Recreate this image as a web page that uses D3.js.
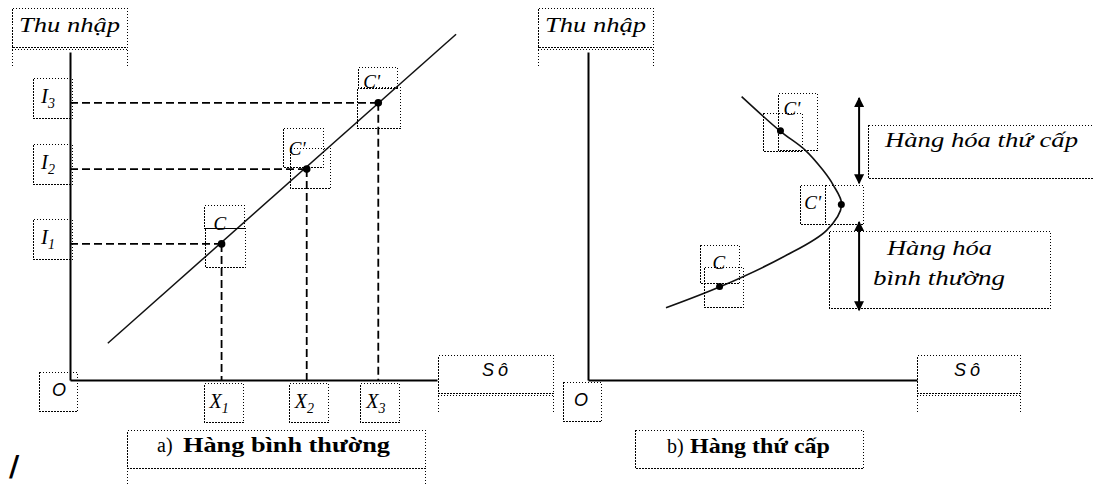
<!DOCTYPE html>
<html>
<head>
<meta charset="utf-8">
<script src="https://cdn.jsdelivr.net/npm/d3@7"></script>
<style>
  html, body { margin: 0; padding: 0; background: #fff; }
  svg { display: block; }
  .dot-box { fill: none; stroke: #000; stroke-width: 1.3; stroke-dasharray: 1.4 1.6; shape-rendering: crispEdges; }
  .axis path { stroke: #000; stroke-width: 2; }
</style>
</head>
<body>
<svg id="chart" width="1093" height="484"></svg>
<script>
// a) hang binh thuong : so luong X va thu nhap I
const leftX = [4.13, 6.45, 8.4];
const leftI = [4.15, 6.43, 8.45];
const leftPointNames = ["C", "C'", "C'"];
const subNames = ["1", "2", "3"];
const leftLineX = [1.03, 10.52];
const leftLineI = [1.12, 10.54];

// b) hang thu cap : duong Engel cong nguoc
const rightCurveX = [2.37, 4.01, 5.93, 7.26, 7.71, 7.45, 7.14, 6.60, 5.84, 4.67];
const rightCurveI = [2.20, 2.84, 3.75, 4.57, 5.34, 5.95, 6.40, 7.01, 7.59, 8.64];
const rightPtX = [4.0, 7.7, 5.85];
const rightPtI = [2.85, 5.35, 7.6];
const rightPointNames = ["C", "C'", "C'"];
const arrowX = 8.24;
const arrowLow = [6.0, 2.13];
const arrowHigh = [8.6, 4.82];

const svg = d3.select("#chart");
const SERIF = "Liberation Serif, Times New Roman, serif";

// schalen
const xA = d3.scaleLinear().domain([0, 10]).range([70, 437]);
const yA = d3.scaleLinear().domain([0, 10]).range([380, 52]);
const xB = d3.scaleLinear().domain([0, 10]).range([588, 917]);
const yB = d3.scaleLinear().domain([0, 10]).range([380, 52]);

function box(x, y, w, h) {
  svg.append("rect").attr("class", "dot-box")
    .attr("x", Math.round(x) + 0.5).attr("y", Math.round(y) + 0.5)
    .attr("width", Math.round(w)).attr("height", Math.round(h));
}
function vline(x, y1, y2) {
  svg.append("line").attr("class", "dot-box")
    .attr("x1", x + 0.5).attr("x2", x + 0.5).attr("y1", y1).attr("y2", y2);
}
function hline(x1, x2, y) {
  svg.append("line").attr("class", "dot-box")
    .attr("x1", x1).attr("x2", x2).attr("y1", y + 0.5).attr("y2", y + 0.5);
}
// cursief label
function label(x, y, size, txt) {
  return svg.append("text")
    .attr("x", x).attr("y", y)
    .attr("font-family", SERIF).attr("font-style", "italic")
    .attr("font-size", size).attr("fill", "#000")
    .text(txt);
}

// ASSEN
svg.append("g").attr("class", "axis").attr("transform", "translate(0,380)")
  .call(d3.axisBottom(xA).tickValues([]).tickSizeOuter(0));
svg.append("g").attr("class", "axis").attr("transform", "translate(70,0)")
  .call(d3.axisLeft(yA).tickValues([]).tickSizeOuter(0));
svg.append("g").attr("class", "axis").attr("transform", "translate(0,380)")
  .call(d3.axisBottom(xB).tickValues([]).tickSizeOuter(0));
svg.append("g").attr("class", "axis").attr("transform", "translate(588,0)")
  .call(d3.axisLeft(yB).tickValues([]).tickSizeOuter(0));

// titel boxen "Thu nhap" en "So"
[12, 538].forEach(bx => {
  box(bx, 8, 115, 39);
  hline(bx, bx + 115, 49);
  vline(bx, 47, 67);
  vline(bx + 115, 47, 67);
  label(bx + 7, 32, 22, "Thu nhập")
    .attr("textLength", 101).attr("lengthAdjust", "spacingAndGlyphs");
});
[[438, 115, 497], [917, 103, 969]].forEach(([bx, bw, tx]) => {
  box(bx, 355, bw, 38);
  hline(bx, bx + bw, 395);
  vline(bx, 393, 414);
  vline(bx + bw, 393, 414);
  svg.append("text")
    .attr("x", tx).attr("y", 376)
    .attr("text-anchor", "middle")
    .attr("font-family", "Liberation Sans, sans-serif")
    .attr("font-style", "italic")
    .attr("font-size", 18)
    .attr("letter-spacing", 4)
    .text("Sô");
});

// O
[[39, 372, 59, 396], [563, 382, 581, 406]].forEach(([bx, by, tx, ty]) => {
  box(bx, by, 38, 39);
  svg.append("text")
    .attr("x", tx).attr("y", ty).attr("text-anchor", "middle")
    .attr("font-family", "Liberation Sans, sans-serif")
    .attr("font-style", "italic").attr("font-size", 18)
    .text("O");
});

// LINKS: stippellijnen
const leftPts = leftX.map((x, i) => ({ x: x, i: leftI[i], name: leftPointNames[i], sub: subNames[i] }));

svg.append("g").selectAll("line").data(leftPts).join("line")
  .attr("x1", xA(0)).attr("x2", d => xA(d.x))
  .attr("y1", d => yA(d.i)).attr("y2", d => yA(d.i))
  .attr("stroke", "#000").attr("stroke-width", 1.8).attr("stroke-dasharray", "8 4");
svg.append("g").selectAll("line").data(leftPts).join("line")
  .attr("x1", d => xA(d.x)).attr("x2", d => xA(d.x))
  .attr("y1", d => yA(d.i)).attr("y2", yA(0))
  .attr("stroke", "#000").attr("stroke-width", 1.8).attr("stroke-dasharray", "8 4");

// de rechte lijn
svg.append("line")
  .attr("x1", xA(leftLineX[0])).attr("y1", yA(leftLineI[0]))
  .attr("x2", xA(leftLineX[1])).attr("y2", yA(leftLineI[1]))
  .attr("stroke", "#111").attr("stroke-width", 1.5);

// label boxen rond de punten (offsets)
const leftBoxes = [
  { lab: [-18, -39, 40, 23], pt: [-17, -16, 40, 39], tx: -8, ty: -14 },
  { lab: [-24, -41, 40, 39], pt: [-17, -21, 40, 40], tx: -18, ty: -14 },
  { lab: [-20, -36, 39, 21], pt: [-21, -16, 43, 41], tx: -15, ty: -15 }
];
leftPts.forEach((d, k) => {
  const px = xA(d.x), py = yA(d.i), b = leftBoxes[k];
  box(px + b.lab[0], py + b.lab[1], b.lab[2], b.lab[3]);
  box(px + b.pt[0], py + b.pt[1], b.pt[2], b.pt[3]);
  label(px + b.tx, py + b.ty, 19, d.name);
  // I labels
  box(33, py - 25, 39, 40);
  const ti = label(41, py, 21, null);
  ti.append("tspan").text("I");
  ti.append("tspan").attr("font-size", 14).attr("dy", 5).text(d.sub);
  // X labels
  box(px - 18, 383, 39, 39);
  const tx = label(px - 12, 408, 20, null);
  tx.append("tspan").text("X");
  tx.append("tspan").attr("font-size", 14).attr("dy", 5).text(d.sub);
});

svg.append("g").selectAll("circle").data(leftPts).join("circle")
  .attr("cx", d => xA(d.x)).attr("cy", d => yA(d.i)).attr("r", 3.8).attr("fill", "#000");

// RECHTS: Engel curve
const curveData = rightCurveX.map((x, i) => [x, rightCurveI[i]]);
svg.append("path")
  .attr("d", d3.line().x(d => xB(d[0])).y(d => yB(d[1])).curve(d3.curveCatmullRom.alpha(0.5))(curveData))
  .attr("fill", "none").attr("stroke", "#111").attr("stroke-width", 1.6);

const rightPts = rightPtX.map((x, i) => ({ x: x, i: rightPtI[i], name: rightPointNames[i] }));
const rightBoxes = [
  { lab: [-20, -42, 39, 38], pt: [-16, -20, 39, 40], tx: -7, ty: -18 },
  { lab: [-41, -20, 25, 39], pt: [-16, -20, 38, 39], tx: -37, ty: 4 },
  { lab: [-2, -38, 39, 57], pt: [-17, -18, 39, 38], tx: 3, ty: -16 }
];
rightPts.forEach((d, k) => {
  const px = xB(d.x), py = yB(d.i), b = rightBoxes[k];
  box(px + b.lab[0], py + b.lab[1], b.lab[2], b.lab[3]);
  box(px + b.pt[0], py + b.pt[1], b.pt[2], b.pt[3]);
  label(px + b.tx, py + b.ty, 19, d.name);
});
svg.append("g").selectAll("circle").data(rightPts).join("circle")
  .attr("cx", d => xB(d.x)).attr("cy", d => yB(d.i)).attr("r", 3.5).attr("fill", "#000");

// pijlen
const defs = svg.append("defs");
defs.append("marker").attr("id", "kop").attr("viewBox", "0 0 10 10")
  .attr("refX", 9).attr("refY", 5).attr("markerWidth", 12).attr("markerHeight", 10)
  .attr("markerUnits", "userSpaceOnUse").attr("orient", "auto-start-reverse")
  .append("path").attr("d", "M0,0 L10,5 L0,10 Z").attr("fill", "#000");

arrowLow.forEach((lo, i) => {
  svg.append("line")
    .attr("x1", xB(arrowX)).attr("x2", xB(arrowX))
    .attr("y1", yB(arrowHigh[i])).attr("y2", yB(lo))
    .attr("stroke", "#000").attr("stroke-width", 2)
    .attr("marker-start", "url(#kop)").attr("marker-end", "url(#kop)");
});

// tekst boxen bij de pijlen
box(868, 125, 240, 53);
label(885, 147, 20, "Hàng hóa thứ cấp")
  .attr("textLength", 193).attr("lengthAdjust", "spacingAndGlyphs");
box(829, 231, 221, 77);
label(887, 255, 20, "Hàng hóa")
  .attr("textLength", 105).attr("lengthAdjust", "spacingAndGlyphs");
label(873, 285, 20, "bình thường")
  .attr("textLength", 132).attr("lengthAdjust", "spacingAndGlyphs");

// onderschriften
box(127, 430, 298, 38);
vline(127, 468, 484);
vline(425, 468, 484);
svg.append("text").attr("x", 157).attr("y", 452)
  .attr("font-family", SERIF).attr("font-size", 20)
  .text("a)");
svg.append("text").attr("x", 183).attr("y", 452)
  .attr("font-family", SERIF).attr("font-weight", "bold").attr("font-size", 21)
  .attr("textLength", 207).attr("lengthAdjust", "spacingAndGlyphs")
  .text("Hàng bình thường");

box(635, 430, 228, 38);
svg.append("text").attr("x", 667).attr("y", 453)
  .attr("font-family", SERIF).attr("font-size", 20)
  .text("b)");
svg.append("text").attr("x", 690).attr("y", 453)
  .attr("font-family", SERIF).attr("font-weight", "bold").attr("font-size", 21)
  .attr("textLength", 140).attr("lengthAdjust", "spacingAndGlyphs")
  .text("Hàng thứ cấp");

// losse streep links onder
svg.append("text").attr("x", 9).attr("y", 476)
  .attr("font-family", "DejaVu Sans, sans-serif").attr("font-weight", "bold").attr("font-size", 28)
  .text("/");
</script>
</body>
</html>
